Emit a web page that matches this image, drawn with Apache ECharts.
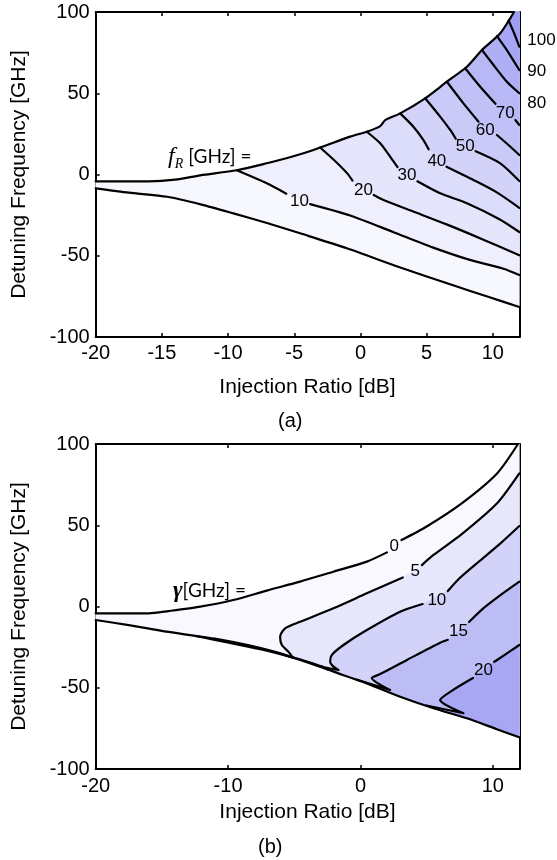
<!DOCTYPE html>
<html>
<head>
<meta charset="utf-8">
<script src="https://cdn.jsdelivr.net/npm/echarts@6/dist/echarts.min.js"></script>
<style>
  html, body { margin: 0; padding: 0; background: #fff; }
  #chart { width: 557px; height: 860px; }
</style>
</head>
<body>
<div id="chart"></div>
<script>
// ---------- axes ----------
const xTicksA = [-20, -15, -10, -5, 0, 5, 10];
const xTicksB = [-20, -10, 0, 10];
const yTicks = [-100, -50, 0, 50, 100];
const xMax = 12;

// ---------- panel (a): f_R contours ----------
const lockUpperA = [[-20,-4.2],[-16,-4.2],[-14,-3.2],[-12.1,-0.5],[-9.35,2.6],[-7.08,6.9],[-5.2,10.9],[-3.55,15.1],[-0.78,23.3],[0.48,26.3],[1.49,29.8],[1.87,33.5],[3.0,37.6],[4.89,46.9],[6.53,57.1],[8.04,66.3],[9.18,76.6],[10.56,86.9],[11.6,100]];
const lockLowerA = [[-20,-8.5],[-17.5,-11.2],[-14.6,-13.7],[-12,-18.5],[-9.6,-23.9],[-7,-30],[-4.56,-36.2],[-1.03,-45.4],[2.9,-56.9],[7.0,-68.2],[9.7,-75.4],[12,-81.5]];

const fR10 = [[-9.35,2.6],[-7.08,-5.4],[-5.6,-11.8],null,[-3.8,-18.2],[-0.78,-25.2],[2.5,-35.5],[5.5,-45],[8.2,-52.4],[10.8,-58],[12,-61.8]];
const fR20 = [[-3.05,16.6],[-2.0,8.9],[-1.0,0.7],[-0.6,-3.8],null,[1.0,-12.6],[1.74,-15.7],[3.9,-22.5],[6.6,-31],[9.2,-39.8],[12,-49.7]];
const fR30 = [[0.48,26.3],[1.49,19.2],[2.24,11],[2.8,4.5],null,[4.3,-4.2],[6.02,-11.6],[8.0,-17.5],[10.5,-27.5],[12,-35.4]];
const fR40 = [[3.0,37.6],[4.0,29.4],[4.76,21.2],[5.15,15.5],null,[6.5,4.8],[8.54,-3.4],[10.3,-11.0],[12,-20.5]];
const fR50 = [[4.89,46.9],[6.02,35.6],[6.78,27.4],[7.2,22.0],null,[8.7,14.3],[10.56,6.9],[12,-4]];
const fR60 = [[6.53,57.1],[7.78,43.8],[8.92,32.5],null,[10.31,24.3],[11.2,18.0],[12,12]];
const fR70 = [[7.91,65.4],[9.05,54],[10.2,43.5],null,[11.7,33.5],[12,30.5]];
const fR80 = [[9.18,76.6],[10.05,67.4],[11.06,57.1],[12,50]];
const fR90 = [[10.31,85.2],[11.06,76.6],[12,64.3]];
const fR100 = [[11.19,94.8],[11.56,87.9],[12,78.7]];
const fRLines = [fR10, fR20, fR30, fR40, fR50, fR60, fR70, fR80, fR90, fR100];

const fRLabels = [[-4.6,-16.7,'10'],[0.23,-9.5,'20'],[3.51,-0.7,'30'],[5.77,8.3,'40'],[7.91,17.1,'50'],[9.43,27.4,'60'],[10.94,37.7,'70']];
const fREdgeLabels = [[12,43.8,'80'],[12,63.7,'90'],[12,82.8,'100']];
const fRBandColors = ['#f7f7fe','#eeeefd','#e5e5fc','#dcdcfb','#d3d3fa','#cacaf9','#c1c1f8','#b8b8f7','#afaff6','#a6a6f5','#9d9df4'];

// ---------- panel (b): gamma contours ----------
const lockUpperB = [[-20,-4.2],[-16,-4.2],[-14.5,-2.8],[-12.1,-0.1],[-9.6,4],[-7.08,9.8],[-4.56,15.3],[-2.04,21.4],[0.48,27.6],[2.0,33.3],null,[3.1,40.9],[4.97,49.1],[7.65,63.5],[10.32,81.9],[11.9,100]];
const lockLowerB = [[-20,-8.3],[-17.5,-11.5],[-15.1,-14.8],[-12,-18.8],[-9.6,-22.8],[-7.3,-26.8],[-4.56,-32.9],[-2.04,-40.1],[0.48,-47.3],[3.0,-55.5],[5.52,-62.6],[8.04,-68.8],[10.3,-75.5],[12,-80.5]];

const gamma5 = [[12,81.9],[10.32,63.5],[7.65,44.5],[5.52,31.7],[4.64,25.5],null,[3.2,17.9],[0.48,8.1],[-2.04,-1.1],[-4.56,-9.4],[-5.69,-13.4],[-6.07,-18.6],[-5.94,-23.7],[-5.44,-27.8],[-5.11,-31.3],[-6.3,-28.2],[-8.5,-23.8],[-11,-19.8],[-12.5,-18.0]];
const gamma10 = [[12,49.5],[10.6,39],[9.0,28],[7.5,17.5],[6.6,9.5],null,[4.7,1.5],[3.0,-3.2],[0.48,-14.5],[-1.28,-23.7],[-2.16,-29.8],[-2.29,-34],[-2.04,-37],[-1.66,-39.1],[-2.8,-37.2],[-4.05,-33.8],[-5.31,-30.8],[-5.6,-30.3]];
const gamma15 = [[12,15.3],[10.32,5.5],[9.3,-1],[8.2,-9.5],null,[6.6,-20.5],[6.02,-22.3],[3.51,-32.9],[1.49,-41.6],[0.86,-44.0],[2.24,-51.4],[-0.3,-45.0]];
const gamma20 = [[12,-23.7],[10.32,-32.9],[10.1,-34],null,[8.5,-44],[7.03,-51.2],[6.02,-57.6],[7.78,-65.7],[5.0,-60.9]];
const gammaLines = [gamma5, gamma10, gamma15, gamma20];

const gammaLabels = [[2.55,36.8,'0'],[4.13,21.4,'5'],[5.77,4.0,'10'],[7.41,-15.5,'15'],[9.3,-39.1,'20']];
const gammaBandColors = ['#f8f8fe','#e7e7fc','#d3d3f9','#bdbdf6','#a7a7f3'];

// ---------- region builders ----------
const solid = pts => pts.filter(Boolean);
function lockRegion(upper, lower) {
  return solid(upper).concat([[xMax, 100]], lower.slice().reverse());
}
// area on the upper-right side of a contour that starts on the upper boundary
function aboveContour(line, upper) {
  const pts = solid(line);
  const x0 = pts[0][0];
  return pts.concat([[xMax, 100]], solid(upper).filter(p => p[0] > x0).reverse());
}
// area on the lower-right side of a contour that ends on the lower boundary
function belowContour(line, lower) {
  const pts = solid(line);
  const xe = pts[pts.length - 1][0];
  return pts.concat(lower.filter(p => p[0] > xe));
}

const regionsA = [{ pts: lockRegion(lockUpperA, lockLowerA), color: fRBandColors[0] }]
  .concat(fRLines.map((l, i) => ({ pts: aboveContour(l, lockUpperA), color: fRBandColors[i + 1] })));
const regionsB = [{ pts: lockRegion(lockUpperB, lockLowerB), color: gammaBandColors[0] }]
  .concat(gammaLines.map((l, i) => ({ pts: belowContour(l, lockLowerB), color: gammaBandColors[i + 1] })));

// ---------- styling ----------
const SANS = 'Liberation Sans';
const tickFont = { fontFamily: SANS, fontSize: 20, color: '#000' };
const frame = { show: true, onZero: false, lineStyle: { color: '#000', width: 2 } };
const ticksIn = { show: true, inside: true, length: 4, lineStyle: { color: '#000', width: 1.5 } };

function xAxes(gridIndex, ticks, nameGap, margin) {
  const base = { type: 'value', gridIndex, min: ticks[0], max: xMax, interval: ticks[1] - ticks[0],
    splitLine: { show: false }, axisLine: frame, axisTick: ticksIn };
  return [
    Object.assign({}, base, { position: 'bottom',
      axisLabel: Object.assign({ margin, showMaxLabel: false, showMinLabel: true }, tickFont),
      name: 'Injection Ratio [dB]', nameLocation: 'middle', nameGap,
      nameTextStyle: { fontFamily: SANS, fontSize: 21, color: '#000' } }),
    Object.assign({}, base, { position: 'top', axisLabel: { show: false } })
  ];
}
function yAxes(gridIndex) {
  const base = { type: 'value', gridIndex, min: yTicks[0], max: yTicks[yTicks.length - 1],
    interval: yTicks[1] - yTicks[0], splitLine: { show: false }, axisLine: frame, axisTick: ticksIn };
  return [
    Object.assign({}, base, { position: 'left',
      axisLabel: Object.assign({ margin: 6, showMinLabel: true, showMaxLabel: true }, tickFont),
      name: 'Detuning Frequency [GHz]', nameLocation: 'middle', nameGap: 66,
      nameTextStyle: { fontFamily: SANS, fontSize: 21, color: '#000' } }),
    Object.assign({}, base, { position: 'right', axisLabel: { show: false } })
  ];
}

function fillSeries(axisIdx, regions) {
  return {
    type: 'custom', xAxisIndex: axisIdx, yAxisIndex: axisIdx, silent: true, z: 1,
    data: regions.map((r, i) => [i]),
    renderItem: (params, api) => {
      const r = regions[params.dataIndex];
      return {
        type: 'polygon', z2: params.dataIndex,
        shape: { points: r.pts.map(p => api.coord(p)) },
        style: { fill: r.color, stroke: r.color, lineWidth: 0.6 }
      };
    }
  };
}
function lineSeries(axisIdx, data) {
  return {
    type: 'line', xAxisIndex: axisIdx, yAxisIndex: axisIdx, data, z: 3,
    showSymbol: false, symbol: 'none', connectNulls: false, silent: true, smooth: 0.25,
    lineStyle: { color: '#000', width: 2.2, join: 'round', cap: 'round' }
  };
}
function labelSeries(axisIdx, data, extra) {
  return {
    type: 'scatter', xAxisIndex: axisIdx, yAxisIndex: axisIdx, data, z: 4, clip: false,
    symbolSize: 0, itemStyle: { color: '#000' }, silent: true,
    label: Object.assign({ show: true, position: 'inside', formatter: p => p.data[2],
      fontFamily: SANS, fontSize: 17, color: '#000', opacity: 1 }, extra || {})
  };
}

const series = [];
series.push(fillSeries(0, regionsA));
series.push(lineSeries(0, lockUpperA), lineSeries(0, lockLowerA));
fRLines.forEach(l => series.push(lineSeries(0, l)));
series.push(labelSeries(0, fRLabels));
series.push(labelSeries(0, fREdgeLabels, { position: 'right', distance: 8 }));
series.push(labelSeries(0, [[-14.53, 10.8, '']], {
  position: 'right', distance: 0,
  formatter: '{f|f}{s|R}{t| [GHz] =}',
  rich: {
    f: { fontFamily: 'Liberation Serif', fontStyle: 'italic', fontSize: 24, lineHeight: 28, verticalAlign: 'middle', color: '#000' },
    s: { fontFamily: 'Liberation Serif', fontStyle: 'italic', fontSize: 14, lineHeight: 28, verticalAlign: 'bottom', color: '#000' },
    t: { fontFamily: 'Lato', fontSize: 19, lineHeight: 28, verticalAlign: 'middle', color: '#000' }
  }
}));

series.push(fillSeries(2, regionsB));
series.push(lineSeries(2, lockUpperB), lineSeries(2, lockLowerB));
gammaLines.forEach(l => series.push(lineSeries(2, l)));
series.push(labelSeries(2, gammaLabels));
series.push(labelSeries(2, [[-14.16, 9.5, '']], {
  position: 'right', distance: 0,
  formatter: '{g|γ}{t|[GHz] =}',
  rich: {
    g: { fontFamily: 'Liberation Serif', fontStyle: 'italic', fontWeight: 'bold', fontSize: 23, color: '#000' },
    t: { fontFamily: 'Lato', fontSize: 19, color: '#000' }
  }
}));

const chart = echarts.init(document.getElementById('chart'), null, { renderer: 'canvas' });
chart.setOption({
  animation: false,
  backgroundColor: '#fff',
  grid: [
    { left: 95.7, right: 37.7, top: 12, height: 325, outerBoundsMode: 'none', containLabel: false },
    { left: 95.7, right: 37.7, top: 444, height: 325, outerBoundsMode: 'none', containLabel: false }
  ],
  xAxis: xAxes(0, xTicksA, 40, 6).concat(xAxes(1, xTicksB, 33, 7)),
  yAxis: yAxes(0).concat(yAxes(1)),
  graphic: [
    { type: 'text', left: 278, top: 411, style: { text: '(a)', fontFamily: SANS, fontSize: 20, fill: '#000' } },
    { type: 'text', left: 258, top: 837, style: { text: '(b)', fontFamily: SANS, fontSize: 20, fill: '#000' } }
  ],
  series
});
</script>
</body>
</html>
